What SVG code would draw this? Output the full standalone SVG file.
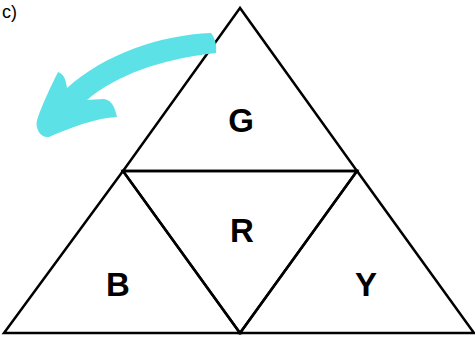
<svg xmlns="http://www.w3.org/2000/svg" width="475" height="338" viewBox="0 0 475 338">
<style>
.tri{fill:none;stroke:#000;stroke-width:2.5;stroke-linejoin:miter}
.lbl{font-family:"Liberation Sans",Arial,sans-serif;font-weight:bold;font-size:33px;fill:#000;text-anchor:middle}
.hand{font-family:"Liberation Sans",Arial,sans-serif;font-size:18px;fill:#000}
</style>
<rect width="475" height="338" fill="#fff"/>
<text class="hand" x="2" y="18">c)</text>
<g id="node-G">
<polygon class="tri" points="240,8 123,171 357,171"/>
<text class="lbl" x="241" y="132">G</text>
</g>
<g id="node-R">
<polygon class="tri" points="123,171 357,171 240,333"/>
<text class="lbl" x="242" y="242">R</text>
</g>
<g id="node-B">
<polygon class="tri" points="123,171 4,333 240,333"/>
<text class="lbl" x="118" y="296">B</text>
</g>
<g id="node-Y">
<polygon class="tri" points="357,171 240,333 474,333"/>
<text class="lbl" x="366" y="296">Y</text>
</g>
<g id="connectors">
<path fill="#5CE1E6" d="M 211 33 C 160 35, 105 54, 67 88 C 66 80, 64 74, 58 72 C 50 88, 42 105, 37 120 C 35 128, 40 138, 49 137 C 70 128, 95 118, 117 117 C 115 108, 112 100, 104 99 C 98 99, 92 100, 87 100 C 115 76, 160 59, 216 53 C 217 45, 215 38, 211 33 Z"/>
</g>
</svg>
